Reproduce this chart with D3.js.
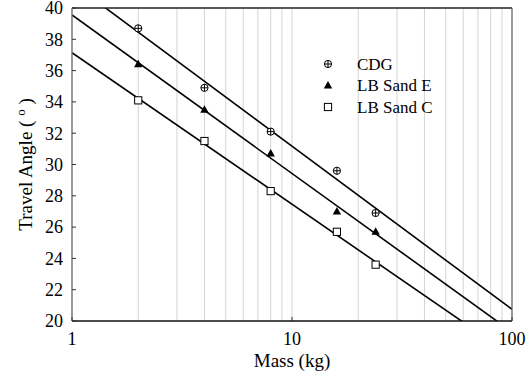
<!DOCTYPE html>
<html>
<head>
<meta charset="utf-8">
<script src="https://cdn.jsdelivr.net/npm/d3@7"></script>
<style>
  body { margin: 0; background: #fff; }
</style>
</head>
<body>
<svg id="chart" width="526" height="376" font-family="'Liberation Serif', 'Times New Roman', 'DejaVu Serif', serif"></svg>
<script>
const mass = [2, 4, 8, 16, 24];
const seriesNames = ["CDG", "LB Sand E", "LB Sand C"];
const cdg = [38.7, 34.9, 32.1, 29.6, 26.9];
const sandE = [36.4, 33.5, 30.7, 27.0, 25.7];
const sandC = [34.1, 31.5, 28.3, 25.7, 23.6];
const yTicks = [20, 22, 24, 26, 28, 30, 32, 34, 36, 38, 40];
const xTicks = [1, 10, 100];

const margin = { top: 8, right: 14, bottom: 55, left: 72 };
const svg = d3.select("#chart");
const width = 526 - margin.left - margin.right;
const height = 376 - margin.top - margin.bottom;
const g = svg.append("g").attr("transform", "translate(" + margin.left + "," + margin.top + ")");

const x = d3.scaleLog().domain([1, 100]).range([0, width]);
const y = d3.scaleLinear().domain([20, 40]).range([height, 0]);

// minor gridlines
const grid = [];
for (let d = 1; d <= 10; d *= 10) {
  for (let k = 2; k <= 10; k++) grid.push(d * k);
}
g.append("g")
  .selectAll("line")
  .data(grid.filter(v => v < 100))
  .enter()
  .append("line")
  .attr("x1", d => x(d)).attr("x2", d => x(d))
  .attr("y1", 0).attr("y2", height)
  .attr("stroke", "#d4d4d4")
  .attr("stroke-width", 1);

svg.append("defs").append("clipPath").attr("id", "clip")
  .append("rect").attr("width", width).attr("height", height);

// regression lines: y = a + b*log10(m)
function fit(vals) {
  const xs = mass.map(m => Math.log10(m));
  const mx = d3.mean(xs), my = d3.mean(vals);
  let sxy = 0, sxx = 0;
  xs.forEach((v, i) => { sxy += (v - mx) * (vals[i] - my); sxx += (v - mx) * (v - mx); });
  const b = sxy / sxx;
  return { a: my - b * mx, b: b };
}

const data = [cdg, sandE, sandC];
const lines = g.append("g").attr("clip-path", "url(#clip)");
data.forEach(vals => {
  const f = fit(vals);
  const pts = [1, 100].map(m => [x(m), y(f.a + f.b * Math.log10(m))]);
  lines.append("path")
    .attr("d", d3.line()(pts))
    .attr("fill", "none")
    .attr("stroke", "#000")
    .attr("stroke-width", 1.6);
});

// frame
g.append("line").attr("x1", 0).attr("x2", width).attr("y1", 0).attr("y2", 0).attr("stroke", "#222").attr("stroke-width", 1.3);
g.append("line").attr("x1", width).attr("x2", width).attr("y1", 0).attr("y2", height).attr("stroke", "#666").attr("stroke-width", 1.3);
g.append("line").attr("x1", 0).attr("x2", 0).attr("y1", 0).attr("y2", height).attr("stroke", "#666").attr("stroke-width", 1.3);
g.append("line").attr("x1", 0).attr("x2", width).attr("y1", height).attr("y2", height).attr("stroke", "#111").attr("stroke-width", 1.3);

// y ticks
const yAxis = g.append("g");
yAxis.selectAll("line").data(yTicks).enter().append("line")
  .attr("x1", 0).attr("x2", 4)
  .attr("y1", d => y(d)).attr("y2", d => y(d))
  .attr("stroke", "#333");
yAxis.selectAll("text").data(yTicks).enter().append("text")
  .attr("x", -9).attr("y", d => y(d)).attr("dy", "0.35em")
  .attr("text-anchor", "end")
  .style("font-size", "18px")
  .text(d => d);

// x ticks
const xAxis = g.append("g");
xAxis.selectAll("line").data(xTicks).enter().append("line")
  .attr("x1", d => x(d)).attr("x2", d => x(d))
  .attr("y1", height).attr("y2", height - 4)
  .attr("stroke", "#333");
xAxis.selectAll("text").data(xTicks).enter().append("text")
  .attr("x", d => x(d)).attr("y", height + 24)
  .attr("text-anchor", "middle")
  .style("font-size", "18px")
  .text(d => d);

// axis titles
svg.append("text")
  .attr("x", margin.left + x(10)).attr("y", 367)
  .attr("text-anchor", "middle")
  .style("font-size", "19px")
  .text("Mass (kg)");

const yt = svg.append("text")
  .attr("transform", "translate(32," + (margin.top + height / 2) + ") rotate(-90)")
  .attr("text-anchor", "middle")
  .style("font-size", "19px");
yt.append("tspan").text("Travel Angle ( ");
yt.append("tspan").attr("dy", "-7").style("font-size", "13px").text("o");
yt.append("tspan").attr("dy", "7").text(" )");

// markers
function marker(sel, type) {
  if (type === 0) {
    sel.append("circle").attr("r", 3.6).attr("fill", "#fff").attr("stroke", "#000").attr("stroke-width", 1);
    sel.append("path").attr("d", "M-3.6,0H3.6M0,-3.6V3.6").attr("stroke", "#000").attr("stroke-width", 1);
  } else if (type === 1) {
    sel.append("path").attr("d", "M0,-4.5L4.2,3L-4.2,3Z").attr("fill", "#000");
  } else {
    sel.append("rect").attr("x", -3.6).attr("y", -3.6).attr("width", 7.2).attr("height", 7.2)
      .attr("fill", "#fff").attr("stroke", "#000").attr("stroke-width", 1);
  }
}

data.forEach((vals, s) => {
  g.append("g").selectAll("g").data(vals).enter().append("g")
    .attr("transform", (d, i) => "translate(" + x(mass[i]) + "," + y(d) + ")")
    .each(function () { marker(d3.select(this), s); });
});

// legend
const legend = svg.append("g").attr("transform", "translate(328,64)");
seriesNames.forEach((name, i) => {
  const row = legend.append("g").attr("transform", "translate(0," + i * 21.5 + ")");
  marker(row, i);
  row.append("text").attr("x", 29).attr("dy", "0.35em").style("font-size", "17px").text(name);
});
</script>
</body>
</html>
